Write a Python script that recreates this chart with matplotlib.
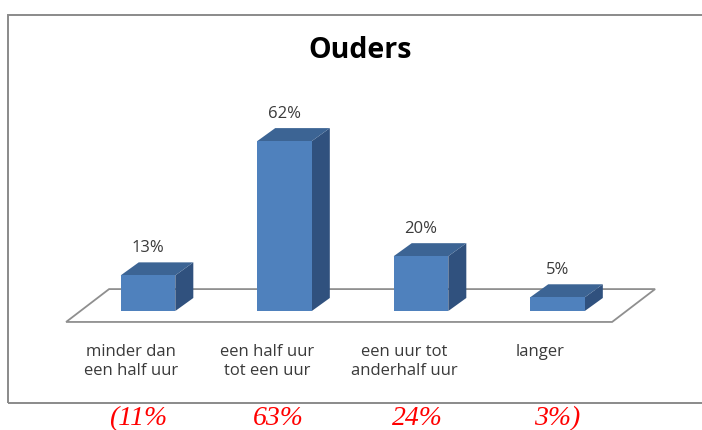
import matplotlib.pyplot as plt
from matplotlib.patches import Polygon, Rectangle

# data
categories = ['minder dan\neen half uur', 'een half uur\ntot een uur',
              'een uur tot\nanderhalf uur', 'langer']
ouders = [13, 62, 20, 5]
vorig = [11, 63, 24, 3]
vorig_labels = ['(11%', '63%', '24%', '3%)']

front = '#4F81BD'
top_c = '#3C6494'
side_c = '#30517E'
text_c = '#3a3a3a'

fig = plt.figure(figsize=(7.02, 4.30), dpi=100)
ax = fig.add_axes([0, 0, 1, 1])
# schaal: 136.5 px per categorie, 2.74 px per procent
ax.set_xlim(-148 / 136.5, (702 - 148) / 136.5)
ax.set_ylim((311 - 430) / 2.74, 311 / 2.74)
ax.axis('off')

# kader om de grafiek
fig.patches.append(Rectangle((8 / 702, 27 / 430), 1.0, 388 / 430,
                             transform=fig.transFigure, fill=False,
                             edgecolor='#8a8a8a', lw=1.4, clip_on=False))

x = list(range(len(categories)))
w = 0.40
dx, dy = 0.132, 4.75   # diepte van de balken

# vloer
fl, fr = -0.60, 3.40
fv, bv, fdx = -4.0, 8.0, 0.315
ax.add_patch(Polygon([(fl, fv), (fr, fv), (fr + fdx, bv), (fl + fdx, bv)],
                     closed=True, facecolor='white', edgecolor='#8f8f8f',
                     lw=1.3, zorder=1))

for xi, v in zip(x, ouders):
    ax.add_patch(Polygon([(xi + w / 2, 0), (xi + w / 2 + dx, dy),
                          (xi + w / 2 + dx, v + dy), (xi + w / 2, v)],
                         closed=True, facecolor=side_c, lw=0, zorder=2))
    ax.add_patch(Polygon([(xi - w / 2, v), (xi + w / 2, v),
                          (xi + w / 2 + dx, v + dy), (xi - w / 2 + dx, v + dy)],
                         closed=True, facecolor=top_c, lw=0, zorder=2))
ax.bar(x, ouders, width=w, color=front, zorder=3)

for xi, v in zip(x, ouders):
    ax.text(xi, v + 8.4, f'{v}%', ha='center', va='baseline',
            fontsize=12, color=text_c, family='Open Sans')

for xi, lab in zip(x, categories):
    ax.text(xi - 0.125, -11.9, lab, ha='center', va='top',
            fontsize=12, color=text_c, family='Open Sans', linespacing=1.3)

for xi, lab in zip(x, vorig_labels):
    ax.text(xi - 0.07 + 0.023 * xi, -41.7, lab, ha='center', va='baseline',
            fontsize=20, color='red', family='Liberation Serif',
            style='italic')

fig.text(360 / 702, 1 - 50 / 430, 'Ouders', ha='center', va='center',
         fontsize=20.5, fontweight='bold', family='Open Sans')

fig.savefig('out.png', dpi=100)
